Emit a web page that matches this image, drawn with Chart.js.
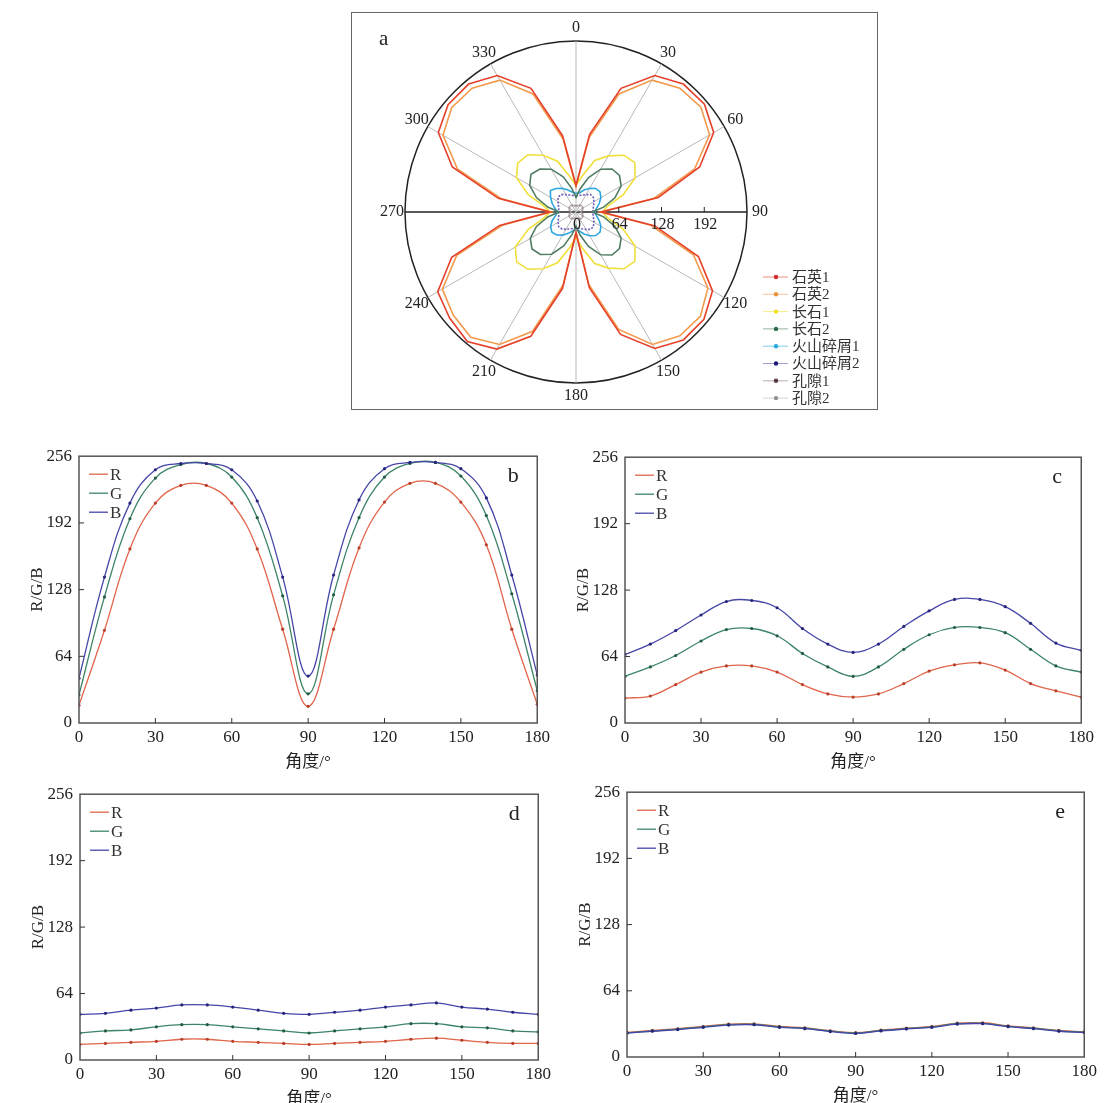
<!DOCTYPE html>
<html>
<head>
<meta charset="utf-8">
<script src="https://cdn.jsdelivr.net/npm/chart.js@4.4.1/dist/chart.umd.min.js"></script>
<style>
  body { margin: 0; background: #fff; width: 1104px; height: 1103px; overflow: hidden; position: relative; }
  canvas { position: absolute; }
  #boxA { position: absolute; left: 351px; top: 12px; width: 527px; height: 398px; border: 1.5px solid #666; box-sizing: border-box; }
</style>
</head>
<body>
<div id="boxA"></div>
<canvas id="chartA" width="527" height="398" style="left:351px;top:12px"></canvas>
<canvas id="chartB"></canvas>
<canvas id="chartC"></canvas>
<canvas id="chartD"></canvas>
<canvas id="chartE"></canvas>
<script>
/* ---------- data: polar panel a ---------- */
const polarAngles = ['0','10','20','30','40','50','60','70','80','90','100','110','120','130','140','150','160','170',
                     '180','190','200','210','220','230','240','250','260','270','280','290','300','310','320','330','340','350'];
const radialTicks = [0, 64, 128, 192];
const polarNames = ['石英1', '石英2', '长石1', '长石2', '火山碎屑1', '火山碎屑2', '孔隙1', '孔隙2'];

const quartz1 = [40,118,197,236,250,251,238,197,125, 38,120,195,236,250,250,236,195,115,
                 31,116,198,237,253,247,239,198,116, 39,118,197,238,250,250,236,197,116];
const quartz2 = [38,113,188,228,242,244,231,189,119, 36,114,187,228,243,242,229,187,110,
                 30,111,190,229,245,240,231,190,111, 37,113,189,230,243,242,228,188,111];
const feldspar1 = [40,55,82,97,111,115,102,75,47, 40,47,75,102,115,111,97,82,55,
                   38,54,81,98,112,116,105,76,48, 39,48,76,103,114,112,98,81,54];
const feldspar2 = [22,35,55,74,84,85,78,62,42, 24,42,62,78,85,84,74,55,35,
                   21,34,54,73,83,86,79,63,43, 25,43,63,80,88,84,74,56,36];
const volcanic1 = [28,29,35,41,46,47,43,37,31, 28,31,37,43,47,46,41,35,29,
                   27,29,34,40,45,47,44,38,31, 28,32,38,44,50,46,41,35,30];
const volcanic2 = [24,25,27,30,34,34,31,28,26, 25,26,28,31,34,34,30,27,25,
                   24,25,27,30,33,34,31,28,26, 27,26,28,31,35,34,30,27,25];
const pore1 = [9,10,11,12,13,13,12,11,10, 9,10,11,12,13,13,12,11,10,
               9,10,11,12,13,13,12,11,10, 9,10,11,12,13,13,12,11,10];
const pore2 = [7,8,9,10,11,11,10,9,8, 7,8,9,10,11,11,10,9,8,
               7,8,9,10,11,11,10,9,8, 7,8,9,10,11,11,10,9,8];

const polarColors = ['#e5402a', '#f39a4c', '#f1df3a', '#4f7c62', '#2ea6e0', '#6a5cc0', '#8a7078', '#b8b8b8'];
const polarDots = ['#d42a2a', '#e8923a', '#f0e020', '#2f6a4a', '#28a8e0', '#1a1a7a', '#5a3a40', '#909090'];

/* ---------- data: line panels b-e ---------- */
const angleX = [0, 10, 20, 30, 40, 50, 60, 70, 80, 90, 100, 110, 120, 130, 140, 150, 160, 170, 180];

const bR = [17, 89, 167, 211, 228, 228, 211, 167, 90, 16, 90, 168, 212, 230, 230, 212, 171, 90, 18];
const bG = [27, 121, 196, 235, 248, 249, 236, 197, 122, 28, 123, 197, 236, 249, 250, 237, 199, 124, 31];
const bB = [43, 140, 211, 243, 249, 249, 243, 213, 140, 45, 142, 214, 244, 250, 250, 244, 216, 142, 46];

const cR = [24, 26, 37, 49, 55, 55, 49, 37, 28, 25, 28, 38, 50, 56, 58, 51, 38, 31, 25];
const cG = [45, 54, 65, 79, 90, 91, 84, 67, 54, 45, 54, 71, 85, 92, 92, 87, 71, 55, 49];
const cB = [66, 76, 89, 104, 117, 118, 111, 91, 76, 68, 76, 93, 108, 119, 119, 112, 96, 77, 70];

const dR = [15, 16, 17, 18, 20, 20, 18, 17, 16, 15, 16, 17, 18, 20, 21, 19, 17, 16, 16];
const dG = [26, 28, 29, 32, 34, 34, 32, 30, 28, 26, 28, 30, 32, 35, 35, 32, 31, 28, 27];
const dB = [44, 45, 48, 50, 53, 53, 51, 48, 45, 44, 46, 48, 51, 53, 55, 51, 49, 46, 44];

const eR = [23.8, 25.7, 27.3, 29.5, 31.8, 32.1, 29.5, 28.2, 25.4, 23.5, 26.0, 27.9, 29.5, 32.7, 33.1, 30.1, 28.2, 25.7, 24.4];
const eG = [23.4, 25.3, 26.9, 29.1, 31.3, 31.6, 29.1, 27.8, 25.0, 23.1, 25.6, 27.5, 29.1, 32.2, 32.6, 29.7, 27.8, 25.3, 24.0];
const eB = [23.0, 24.9, 26.5, 28.7, 30.9, 31.2, 28.7, 27.4, 24.6, 22.7, 25.2, 27.1, 28.7, 31.8, 32.2, 29.3, 27.4, 24.9, 23.6];

const xTicks = [0, 30, 60, 90, 120, 150, 180];
const yTicks = [0, 64, 128, 192, 256];

const FONT = '"Liberation Serif", "Times New Roman", "Noto Sans CJK SC", serif';
Chart.defaults.font.family = FONT;
Chart.defaults.color = '#222';

/* ---------- panel a: polar plot ---------- */
const polarDecor = {
    id: 'polarDecor',
    afterDraw(chart) {
        const ctx = chart.ctx;
        const s = chart.scales.r;
        ctx.save();
        ctx.fillStyle = '#222';
        ctx.textAlign = 'center';
        ctx.textBaseline = 'middle';
        ctx.font = '16px ' + FONT;
        // angle labels every 30 degrees
        polarAngles.forEach((lab, i) => {
            if (i % 3 !== 0) return;
            const p = s.getPointPosition(i, s.drawingArea + 13);
            ctx.fillText(lab, p.x, p.y);
        });
        // radial tick labels along the 90 degree axis
        ctx.strokeStyle = '#222';
        ctx.lineWidth = 1;
        radialTicks.forEach(v => {
            const x = s.xCenter + s.getDistanceFromCenterForValue(v);
            if (v > 0) {
                ctx.beginPath();
                ctx.moveTo(x, s.yCenter);
                ctx.lineTo(x, s.yCenter - 5);
                ctx.stroke();
            }
            ctx.fillText(String(v), x + 1, s.yCenter + 13);
        });
        // legend
        ctx.textAlign = 'left';
        ctx.font = '15px ' + FONT;
        chart.data.datasets.forEach((ds, i) => {
            const y = 265 + i * 17.3;
            ctx.strokeStyle = ds.borderColor;
            ctx.globalAlpha = 0.6;
            ctx.beginPath();
            ctx.moveTo(412, y);
            ctx.lineTo(437, y);
            ctx.stroke();
            ctx.globalAlpha = 1;
            ctx.fillStyle = polarDots[i];
            ctx.beginPath();
            ctx.arc(425, y, 2.2, 0, Math.PI * 2);
            ctx.fill();
            ctx.fillStyle = '#333';
            ctx.fillText(ds.label, 441, y + 1);
        });
        ctx.font = '21px ' + FONT;
        ctx.fillStyle = '#222';
        ctx.fillText('a', 28, 27);
        ctx.restore();
    }
};

const polarValues = [quartz1, quartz2, feldspar1, feldspar2, volcanic1, volcanic2, pore1, pore2];

new Chart(document.getElementById('chartA'), {
    type: 'radar',
    data: {
        labels: polarAngles,
        datasets: polarNames.map((name, i) => ({
            label: name,
            data: polarValues[i],
            borderColor: polarColors[i],
            borderWidth: i >= 6 ? 1 : 1.6,
            borderDash: i === 5 ? [2, 1.5] : [],
            pointRadius: 0,
            fill: false
        }))
    },
    options: {
        responsive: false,
        animation: false,
        layout: { padding: { left: 54, top: 29, right: 131, bottom: 27 } },
        plugins: { legend: { display: false }, tooltip: { enabled: false } },
        elements: { line: { tension: 0 } },
        scales: {
            r: {
                min: 0,
                max: 256,
                ticks: { stepSize: 64, display: false },
                pointLabels: { display: false },
                grid: {
                    circular: true,
                    color: c => (c.tick && c.tick.value === 256 ? '#222' : 'rgba(0,0,0,0)'),
                    lineWidth: 1.5
                },
                angleLines: {
                    color: c => (c.index % 18 === 9 ? '#222' : (c.index % 3 === 0 ? '#b8b8b8' : 'rgba(0,0,0,0)')),
                    lineWidth: c => (c.index % 18 === 9 ? 1.5 : 1)
                }
            }
        }
    },
    plugins: [polarDecor]
});

/* ---------- panels b-e: R/G/B vs angle ---------- */
const rgbColors = ['#e0654a', '#3d8566', '#4646a8'];
const rgbDots = ['#b8402c', '#245c44', '#26267a'];

const panelDecor = {
    id: 'panelDecor',
    afterDraw(chart, args, opts) {
        const ctx = chart.ctx;
        const a = chart.chartArea;
        const xs = chart.scales.x, ys = chart.scales.y;
        ctx.save();
        ctx.strokeStyle = '#555';
        ctx.lineWidth = 1.5;
        ctx.strokeRect(a.left, a.top, a.right - a.left, a.bottom - a.top);
        ctx.lineWidth = 1;
        ctx.strokeStyle = '#333';
        xTicks.slice(1, -1).forEach(v => {
            const x = xs.getPixelForValue(v);
            ctx.beginPath(); ctx.moveTo(x, a.bottom); ctx.lineTo(x, a.bottom - 5); ctx.stroke();
        });
        yTicks.slice(1, -1).forEach(v => {
            const y = ys.getPixelForValue(v);
            ctx.beginPath(); ctx.moveTo(a.left, y); ctx.lineTo(a.left + 5, y); ctx.stroke();
        });
        // legend
        ctx.font = '17px ' + FONT;
        ctx.textBaseline = 'middle';
        ctx.textAlign = 'left';
        chart.data.datasets.forEach((ds, i) => {
            const y = a.top + 18 + i * 19;
            ctx.strokeStyle = ds.borderColor;
            ctx.lineWidth = 1.3;
            ctx.beginPath(); ctx.moveTo(a.left + 10, y); ctx.lineTo(a.left + 29, y); ctx.stroke();
            ctx.fillStyle = '#333';
            ctx.fillText(ds.label, a.left + 31, y + 1);
        });
        ctx.font = '22px ' + FONT;
        ctx.fillStyle = '#222';
        ctx.textAlign = 'center';
        ctx.fillText(opts.letter, a.right - 24, a.top + 20);
        ctx.restore();
    }
};

function linePanel(id, plot, letter, rVals, gVals, bVals) {
    const padL = 60, padT = 12, padR = 16, padB = 50;
    const cv = document.getElementById(id);
    cv.width = plot.x1 - plot.x0 + padL + padR;
    cv.height = plot.y1 - plot.y0 + padT + padB;
    cv.style.left = (plot.x0 - padL) + 'px';
    cv.style.top = (plot.y0 - padT) + 'px';

    const series = [rVals, gVals, bVals];
    new Chart(cv, {
        type: 'line',
        data: {
            datasets: ['R', 'G', 'B'].map((name, i) => ({
                label: name,
                data: angleX.map((x, k) => ({ x: x, y: series[i][k] })),
                borderColor: rgbColors[i],
                borderWidth: 1.3,
                pointRadius: 1.6,
                pointBorderWidth: 0,
                pointBackgroundColor: rgbDots[i],
                tension: 0.4,
                order: 2 - i
            }))
        },
        options: {
            responsive: false,
            animation: false,
            layout: { padding: { left: 0, top: padT, right: padR, bottom: 0 } },
            plugins: {
                legend: { display: false },
                tooltip: { enabled: false },
                panelDecor: { letter: letter }
            },
            scales: {
                x: {
                    type: 'linear',
                    min: 0, max: 180,
                    afterBuildTicks: s => { s.ticks = xTicks.map(v => ({ value: v })); },
                    afterFit: s => { s.height = padB; },
                    grid: { display: false, drawTicks: false },
                    border: { display: false },
                    ticks: { padding: 4, font: { size: 17 }, color: '#222', maxRotation: 0 },
                    title: { display: true, text: '角度/°', font: { size: 17 }, color: '#222', padding: { top: 4, bottom: 0 } }
                },
                y: {
                    min: 0, max: 256,
                    afterBuildTicks: s => { s.ticks = yTicks.map(v => ({ value: v })); },
                    afterFit: s => { s.width = padL; },
                    grid: { display: false, drawTicks: false },
                    border: { display: false },
                    ticks: { padding: 7, font: { size: 17 }, color: '#222' },
                    title: { display: true, text: 'R/G/B', font: { size: 17 }, color: '#222', padding: { top: 8, bottom: 0 } }
                }
            }
        },
        plugins: [panelDecor]
    });
}

linePanel('chartB', { x0: 79, y0: 451, x1: 538, y1: 723 }, 'b', bR, bG, bB);
linePanel('chartC', { x0: 625, y0: 452, x1: 1082, y1: 723 }, 'c', cR, cG, cB);
linePanel('chartD', { x0: 80, y0: 789, x1: 539, y1: 1060 }, 'd', dR, dG, dB);
linePanel('chartE', { x0: 627, y0: 787, x1: 1085, y1: 1057 }, 'e', eR, eG, eB);
</script>
</body>
</html>
